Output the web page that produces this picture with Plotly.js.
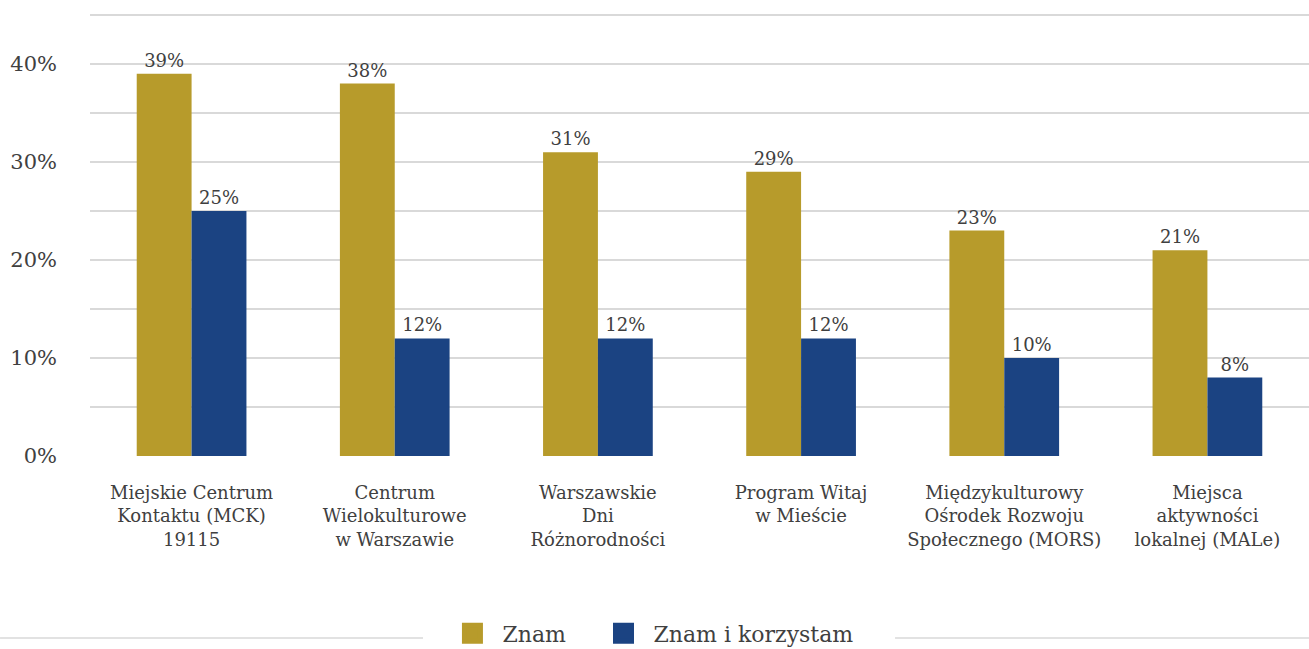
<!DOCTYPE html>
<html>
<head>
<meta charset="utf-8">
<script src="https://cdn.plot.ly/plotly-3.0.1.min.js"></script>
<style>html,body{margin:0;padding:0;background:#fff;}</style>
</head>
<body>
<div id="chart" style="width:1309px;height:649px;"></div>
<script>
const categories = [
  "Miejskie Centrum<br>Kontaktu (MCK)<br>19115",
  "Centrum<br>Wielokulturowe<br>w Warszawie",
  "Warszawskie<br>Dni<br>Różnorodności",
  "Program Witaj<br>w Mieście",
  "Międzykulturowy<br>Ośrodek Rozwoju<br>Społecznego (MORS)",
  "Miejsca<br>aktywności<br>lokalnej (MALe)"
];
const znam = [39, 38, 31, 29, 23, 21];
const znamKorzystam = [25, 12, 12, 12, 10, 8];
const seriesNames = ["Znam", "Znam i korzystam"];
const tickVals = [0, 5, 10, 15, 20, 25, 30, 35, 40, 45];
const tickText = ["0%", "", "10%", "", "20%", "", "30%", "", "40%", ""];

const FONT = "DejaVu Serif, Liberation Serif, serif";
const TXT = "#404040";
const GOLD = "#b79b2b";
const BLUE = "#1b4382";

const pct = arr => arr.map(v => v + "%");

const traces = [
  {type: "bar", name: seriesNames[0], x: categories, y: znam, marker: {color: GOLD},
   text: pct(znam), textposition: "outside", cliponaxis: false,
   textfont: {family: FONT, size: 18, color: TXT}, showlegend: false, hoverinfo: "none"},
  {type: "bar", name: seriesNames[1], x: categories, y: znamKorzystam, marker: {color: BLUE},
   text: pct(znamKorzystam), textposition: "outside", cliponaxis: false,
   textfont: {family: FONT, size: 18, color: TXT}, showlegend: false, hoverinfo: "none"},
  {type: "scatter", mode: "markers", name: seriesNames[0], x: [null], y: [null], legend: "legend",
   marker: {symbol: "square", size: 23, color: GOLD, line: {color: GOLD, width: 5}}, showlegend: true},
  {type: "scatter", mode: "markers", name: seriesNames[1], x: [null], y: [null], legend: "legend2",
   marker: {symbol: "square", size: 23, color: BLUE, line: {color: BLUE, width: 5}}, showlegend: true}
];

const legendBase = {
  orientation: "h", xref: "container", yref: "container", xanchor: "left",
  y: 0.024, yanchor: "middle", itemwidth: 50,
  font: {family: FONT, size: 22, color: TXT}, bgcolor: "rgba(0,0,0,0)"
};

const layout = {
  width: 1309, height: 649,
  margin: {l: 90, r: 0, t: 12, b: 193, autoexpand: false},
  paper_bgcolor: "#fff", plot_bgcolor: "#fff",
  font: {family: FONT, color: TXT},
  barmode: "group", bargap: 0.46, bargroupgap: 0,
  xaxis: {type: "category", tickfont: {family: FONT, size: 18, color: TXT},
          ticks: "", showline: false, showgrid: false, ticklabelstandoff: 24, fixedrange: true},
  yaxis: {range: [0, 45.3], tickvals: tickVals, ticktext: tickText,
          tickfont: {family: FONT, size: 21, color: TXT},
          showgrid: true, gridcolor: "#d9d9d9", gridwidth: 1.5,
          zeroline: false, showline: false, ticks: "", ticklabelstandoff: 32, fixedrange: true},
  legend: Object.assign({}, legendBase, {x: 0.338}),
  legend2: Object.assign({}, legendBase, {x: 0.4534}),
  shapes: [
    {type: "line", xref: "paper", yref: "paper", x0: -0.0738, x1: 0.2732, y0: -0.41, y1: -0.41,
     line: {color: "#d9d9d9", width: 1.5}},
    {type: "line", xref: "paper", yref: "paper", x0: 0.6604, x1: 1.0, y0: -0.41, y1: -0.41,
     line: {color: "#d9d9d9", width: 1.5}}
  ]
};

Plotly.newPlot("chart", traces, layout, {displayModeBar: false, staticPlot: true});
</script>
</body>
</html>
